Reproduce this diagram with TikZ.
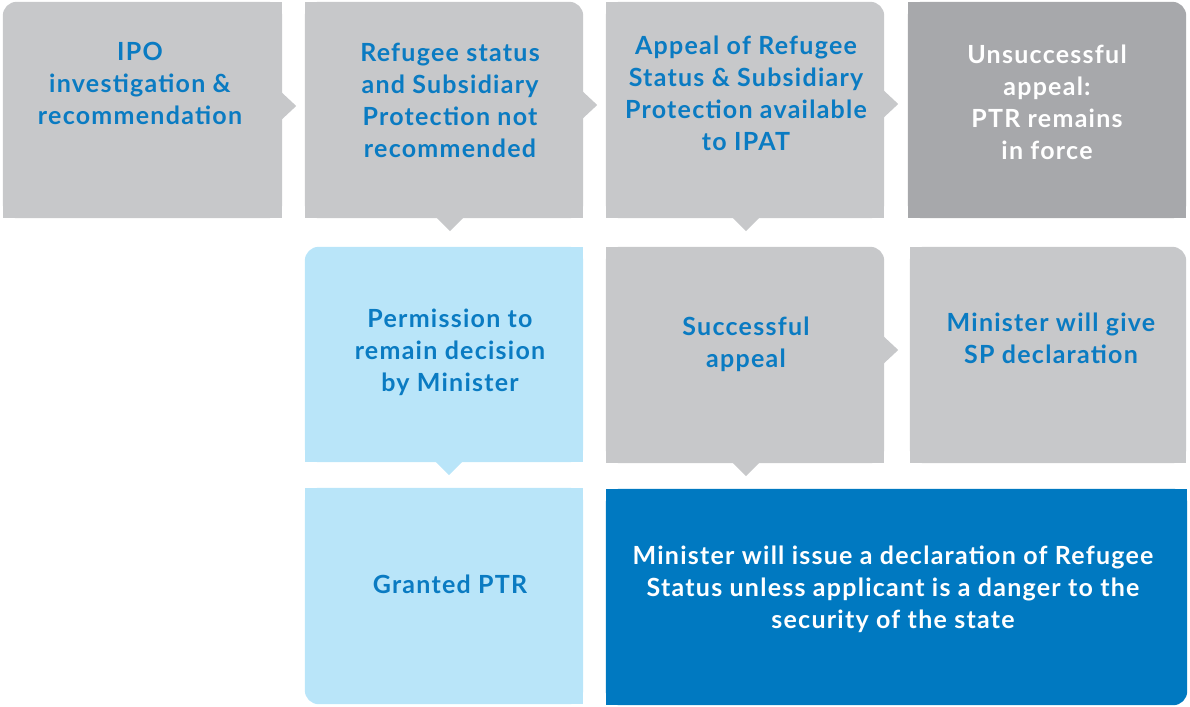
\documentclass[tikz,border=0pt]{standalone}
\usepackage{fontspec}
\setmainfont{Lato}[LetterSpace=5]
\usetikzlibrary{calc}
\pgfdeclarelayer{background}
\pgfsetlayers{background,main}
\definecolor{boxgray}{HTML}{C7C8CA}
\definecolor{darkgray}{HTML}{A7A8AB}
\definecolor{lightblue}{HTML}{B9E5F9}
\definecolor{deepblue}{HTML}{0079C1}
\definecolor{textblue}{HTML}{0A7BC2}
\tikzset{
  box/.style={rectangle, inner sep=0pt, minimum width=#1, minimum height=216pt},
  lbl/.style={font=\fontsize{25}{32}\selectfont\bfseries, text=textblue, align=center, inner sep=0pt},
  wlbl/.style={lbl, text=white},
}
% corner fills: #1 node, #2 colour
\newcommand{\fillTL}[2]{%
  \fill[#2, rounded corners=14pt] (#1.north west) rectangle (#1.south east);
  \fill[#2] ($(#1.north west)+(14,0)$) rectangle (#1.south east);
  \fill[#2] ($(#1.north west)+(0,14)$) rectangle (#1.south east);}
\newcommand{\fillTR}[2]{%
  \fill[#2, rounded corners=14pt] (#1.north west) rectangle (#1.south east);
  \fill[#2] (#1.north west) rectangle ($(#1.south east)+(-14,0)$);
  \fill[#2] ($(#1.north west)+(0,14)$) rectangle (#1.south east);}
\newcommand{\fillBL}[2]{%
  \fill[#2, rounded corners=14pt] (#1.north west) rectangle (#1.south east);
  \fill[#2] ($(#1.north west)+(14,0)$) rectangle (#1.south east);
  \fill[#2] (#1.north west) rectangle ($(#1.south east)+(0,-14)$);}
\newcommand{\fillBR}[2]{%
  \fill[#2, rounded corners=14pt] (#1.north west) rectangle (#1.south east);
  \fill[#2] (#1.north west) rectangle ($(#1.south east)+(-14,0)$);
  \fill[#2] (#1.north west) rectangle ($(#1.south east)+(0,-14)$);}
% pointers
\newcommand{\ptrR}[3]{% node, colour, y offset
  \fill[#2] ($(#1.east)+(-1,#3-14)$) -- ($(#1.east)+(14,#3)$) -- ($(#1.east)+(-1,#3+14)$) -- cycle;}
\newcommand{\ptrD}[3]{% node, colour, x offset
  \fill[#2] ($(#1.south)+(#3-14,-1)$) -- ($(#1.south)+(#3,13)$) -- ($(#1.south)+(#3+14,-1)$) -- cycle;}
\begin{document}
\begin{tikzpicture}[x=1pt,y=-1pt]
\useasboundingbox (0,0) rectangle (1190,706);
% box frames
\node[box=279pt] (b1) at (142.5,110) {};
\node[box=278pt] (b2) at (444,110) {};
\node[box=278pt] (b3) at (745,110) {};
\node[box=278pt] (b4) at (1047,110) {};
\node[box=278pt, minimum height=215pt] (b5) at (444,354.5) {};
\node[box=278pt] (b6) at (745,355) {};
\node[box=276pt] (b7) at (1048,355) {};
\node[box=278pt] (b8) at (444,596) {};
\node[box=581pt] (b9) at (896.5,597) {};
\begin{pgfonlayer}{background}
\fillTL{b1}{boxgray}
\fillTR{b2}{boxgray}
\fillTR{b3}{boxgray}
\fillTR{b4}{darkgray}
\fillTL{b5}{lightblue}
\fillTR{b6}{boxgray}
\fillTR{b7}{boxgray}
\fillBL{b8}{lightblue}
\fillBR{b9}{deepblue}
\ptrR{b1}{boxgray}{-4}
\ptrR{b2}{boxgray}{-5}
\ptrR{b3}{boxgray}{-6}
\ptrR{b6}{boxgray}{-5}
\ptrD{b2}{boxgray}{6}
\ptrD{b3}{boxgray}{1}
\ptrD{b5}{lightblue}{5}
\ptrD{b6}{boxgray}{1}
\end{pgfonlayer}
% labels
\node[lbl] (t1) at (140,83) {IPO\\investigation \&\\recommendation};
\node[lbl] (t2) at (450,100) {Refugee status\\and Subsidiary\\Protection not\\recommended};
\node[lbl] (t3) at (746,93) {Appeal of Refugee\\Status \& Subsidiary\\Protection available\\to IPAT};
\node[wlbl] (t4) at (1047,102) {Unsuccessful\\appeal:\\PTR remains\\in force};
\node[lbl] (t5) at (450,352) {Permission to\\remain decision\\by Minister};
\node[lbl] (t6) at (746,344) {Successful\\appeal};
\node[lbl] (t7) at (1051,338) {Minister will give\\SP declaration};
\node[lbl] (t8) at (450,584) {Granted PTR};
\node[wlbl] (t9) at (893,589) {Minister will issue a declaration of Refugee\\Status unless applicant is a danger to the\\security of the state};
\end{tikzpicture}
\end{document}
